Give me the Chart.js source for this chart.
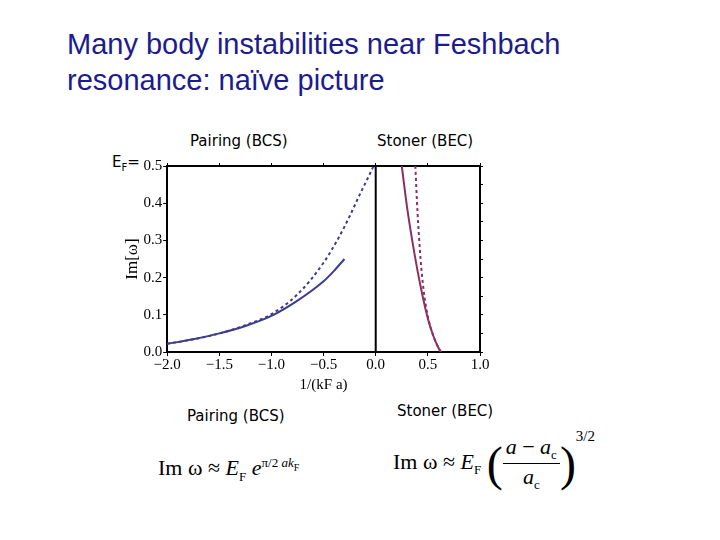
<!DOCTYPE html><html><head><meta charset="utf-8">
<script src="https://cdn.jsdelivr.net/npm/chart.js@4"></script>
<style>
body{margin:0;width:720px;height:540px;background:#fff;position:relative;overflow:hidden;font-family:"Liberation Sans",Arial,sans-serif}
.t{position:absolute;white-space:nowrap}
#title{left:67px;top:26px;font-size:29px;color:#1c1c8e;line-height:36px}
.lab{font-family:"DejaVu Sans",sans-serif;font-size:15px;color:#000}
.f{font-family:"Liberation Serif",serif;font-size:22px}
#cw{position:absolute;left:122px;top:153px;width:376px;height:245px}
</style></head><body>
<div id="title" class="t">Many body instabilities near Feshbach<br>resonance: naïve picture</div>
<div class="t lab" style="left:190px;top:132px">Pairing (BCS)</div>
<div class="t lab" style="left:377px;top:132px">Stoner (BEC)</div>
<div class="t lab" style="left:112px;top:153px;font-size:15px">E<sub style="font-size:10px">F</sub>=</div>
<div class="t lab" style="left:187px;top:407px">Pairing (BCS)</div>
<div class="t lab" style="left:397px;top:402px">Stoner (BEC)</div>
<div class="t f" style="left:158px;top:455px">Im ω ≈ <i>E</i><sub style="font-size:13px">F</sub> <i>e</i><sup style="font-size:13px">π/2 <i>ak</i><sub style="font-size:10px">F</sub></sup></div>
<div class="t f" style="left:393px;top:428px">Im ω ≈ <i>E</i><sub style="font-size:13px">F</sub> <span style="font-size:48px;vertical-align:middle;font-weight:100">(</span><span style="display:inline-block;vertical-align:middle;text-align:center"><span style="display:block;border-bottom:1px solid #000;padding:0 3px"><i>a</i> − <i>a</i><sub style="font-size:13px">c</sub></span><span style="display:block"><i>a</i><sub style="font-size:13px">c</sub></span></span><span style="font-size:48px;vertical-align:middle;font-weight:100">)</span><sup style="font-size:15px;vertical-align:28px">3/2</sup></div>
<div id="cw"><canvas id="c"></canvas></div>
<script>
const bcsX=[-2,-1.75,-1.5,-1.25,-1.0,-0.75,-0.5,-0.4,-0.3];
const bcsSolid=[0.022,0.034,0.05,0.07,0.097,0.138,0.19,0.218,0.25];
const bcsDX=[-2,-1.75,-1.5,-1.25,-1.0,-0.75,-0.5,-0.35,-0.25,-0.15,-0.08,-0.02];
const bcsDashed=[0.022,0.034,0.05,0.072,0.102,0.155,0.24,0.31,0.365,0.425,0.465,0.5];
const bsX=[0.25,0.3,0.35,0.4,0.45,0.5,0.55,0.6,0.625];
const bsSolid=[0.5,0.39,0.3,0.22,0.15,0.09,0.045,0.012,0];
const bdX=[0.38,0.4,0.43,0.46,0.5,0.55,0.6,0.625];
const bdDashed=[0.5,0.38,0.25,0.165,0.095,0.045,0.012,0];
const xTicks=[-2,-1.5,-1,-0.5,0,0.5,1];
const yTicks=[0,0.1,0.2,0.3,0.4,0.5];
const pts=(xs,ys)=>xs.map((x,i)=>({x,y:ys[i]}));
const blue='#3d3c8e',red='#8e2f62';
const serif={family:'Liberation Serif',size:15};
const mono={showLine:true,pointRadius:0,borderWidth:2,cubicInterpolationMode:'monotone'};
new Chart(document.getElementById('c'),{type:'scatter',data:{datasets:[
{data:pts(bcsX,bcsSolid),borderColor:blue,...mono},
{data:pts(bcsDX,bcsDashed),borderColor:blue,...mono,borderDash:[3,3]},
{data:pts(bsX,bsSolid),borderColor:red,...mono},
{data:pts(bdX,bdDashed),borderColor:red,...mono,borderDash:[3,3]},
{data:[{x:0,y:0},{x:0,y:0.5}],borderColor:'#000',showLine:true,pointRadius:0,borderWidth:2}
]},options:{animation:false,responsive:true,maintainAspectRatio:false,
layout:{padding:{right:15,top:10}},
plugins:{legend:{display:false},tooltip:{enabled:false}},
scales:{
x:{type:'linear',min:-2,max:1,afterBuildTicks:a=>{a.ticks=xTicks.map(v=>({value:v}))},
 ticks:{color:'#000',font:serif,callback:v=>v.toFixed(1).replace('-','\u2212'),maxRotation:0,padding:0},
 grid:{drawOnChartArea:false,color:'#000',tickLength:4},border:{color:'#000',width:2},
 title:{display:true,text:'1/(kF a)',font:serif,color:'#000',padding:{top:2}}},
y:{min:0,max:0.5,afterBuildTicks:a=>{a.ticks=yTicks.map(v=>({value:v}))},
 ticks:{color:'#000',font:serif,callback:v=>v.toFixed(1),padding:1},
 grid:{drawOnChartArea:false,color:'#000',tickLength:4},border:{color:'#000',width:2},
 title:{display:true,text:'Im[ω]',font:{family:'Liberation Serif',size:17},color:'#000',padding:0}},
x2:{type:'linear',position:'top',min:-2,max:1,ticks:{display:false},grid:{drawOnChartArea:false,color:'#000',tickLength:3},border:{color:'#000',width:2}},
y2:{position:'right',min:0,max:0.5,ticks:{display:false},grid:{drawOnChartArea:false,color:'#000',tickLength:3},border:{color:'#000',width:2}}
}}});
</script></body></html>
